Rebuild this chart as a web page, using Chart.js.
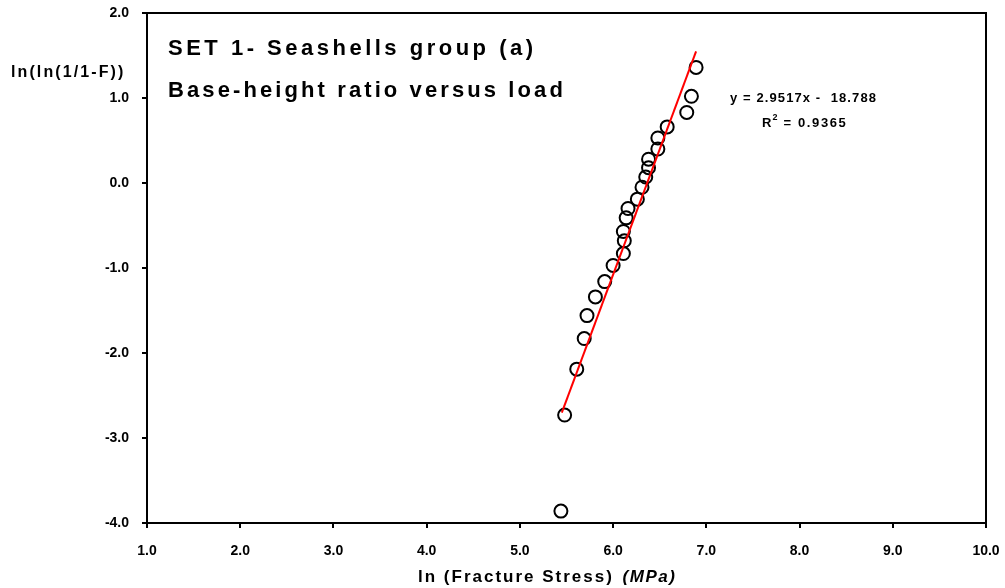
<!DOCTYPE html>
<html>
<head>
<meta charset="utf-8">
<script src="https://cdn.jsdelivr.net/npm/chart.js@4/dist/chart.umd.min.js"></script>
<style>
  html, body { margin: 0; padding: 0; background: #fff; }
  #wrap { width: 1005px; height: 588px; }
</style>
</head>
<body>
<div id="wrap"><canvas id="chart"></canvas></div>
<script>
// ln(fracture stress) vs ln(ln(1/1-F))
const lnStress = [5.44, 5.48, 5.61, 5.69, 5.72, 5.81, 5.91, 6.00, 6.11, 6.12, 6.11, 6.14,
                  6.16, 6.26, 6.31, 6.35, 6.38, 6.38, 6.48, 6.48, 6.58, 6.79, 6.84, 6.89];
const lnlnF    = [-3.86, -2.73, -2.19, -1.83, -1.56, -1.34, -1.16, -0.97, -0.83, -0.68, -0.57, -0.41,
                  -0.30, -0.19, -0.05, 0.07, 0.18, 0.28, 0.40, 0.53, 0.66, 0.83, 1.02, 1.36];

// linear fit printed on the chart
const slope = 2.9517;
const intercept = -18.788;
const fitRange = [5.45, 6.89];

const xTicks = [1, 2, 3, 4, 5, 6, 7, 8, 9, 10];
const yTicks = [-4, -3, -2, -1, 0, 1, 2];

const FONT = "'Liberation Sans', Arial, sans-serif";

// write text with loose letter spacing, like the original export
function spaced(ctx, text, x, y, spacing) {
  ctx.letterSpacing = spacing + "px";
  ctx.fillText(text, x, y);
  const w = ctx.measureText(text).width;
  ctx.letterSpacing = "0px";
  return w;
}

// extra text (titles, equation, axis titles with mixed styles) + closed frame
const decorations = {
  id: "decorations",
  afterDraw(chart) {
    const { ctx, chartArea: a } = chart;
    ctx.save();
    ctx.strokeStyle = "#000";
    ctx.lineWidth = 2;
    ctx.strokeRect(a.left, a.top, a.right - a.left, a.bottom - a.top);

    ctx.fillStyle = "#000";
    ctx.textBaseline = "alphabetic";
    ctx.textAlign = "left";
    ctx.font = `bold 22px ${FONT}`;
    spaced(ctx, "SET 1- Seashells group (a)", 168, 55, 3.5);
    spaced(ctx, "Base-height ratio versus load", 168, 97, 3.1);

    ctx.font = `bold 13px ${FONT}`;
    spaced(ctx, `y = ${slope}x -  ${Math.abs(intercept)}`, 730, 102, 1.1);
    let w = spaced(ctx, "R", 762, 127, 1);
    ctx.font = `bold 9px ${FONT}`;
    ctx.fillText("2", 762 + w, 120);
    ctx.font = `bold 13px ${FONT}`;
    spaced(ctx, " = 0.9365", 762 + w + 6, 127, 1.6);

    // y title sits horizontally above the 1.0 tick
    ctx.font = `bold 16px ${FONT}`;
    spaced(ctx, "ln(ln(1/1-F))", 11, 77, 2.1);

    // x title: regular part + italic unit
    ctx.font = `bold 17px ${FONT}`;
    w = spaced(ctx, "ln (Fracture Stress) ", 418, 582, 2);
    ctx.font = `italic bold 17px ${FONT}`;
    spaced(ctx, "(MPa)", 418 + w + 2, 582, 1.5);
    ctx.restore();
  },
};

new Chart(document.getElementById("chart"), {
  type: "scatter",
  data: {
    datasets: [
      {
        label: "data",
        data: lnStress.map((x, i) => ({ x, y: lnlnF[i] })),
        pointStyle: "circle",
        pointRadius: 6.5,
        pointBorderWidth: 2,
        borderColor: "#000",
        backgroundColor: "rgba(0,0,0,0)",
        order: 2,
      },
      {
        label: "fit",
        type: "line",
        data: fitRange.map((x) => ({ x, y: slope * x + intercept })),
        borderColor: "#ff0000",
        borderWidth: 2,
        pointRadius: 0,
        order: 1,
      },
    ],
  },
  options: {
    responsive: true,
    maintainAspectRatio: false,
    animation: false,
    layout: { padding: { top: 13, right: 19, left: 0, bottom: 0 } },
    plugins: { legend: { display: false }, tooltip: { enabled: false } },
    scales: {
      x: {
        type: "linear",
        min: 1,
        max: 10,
        afterBuildTicks: (s) => { s.ticks = xTicks.map((v) => ({ value: v })); },
        afterFit: (s) => { s.height = 65; s.paddingLeft = 0; s.paddingRight = 0; },
        border: { display: true, color: "#000", width: 2 },
        grid: { drawOnChartArea: false, drawTicks: true, tickLength: 5, color: "#000", lineWidth: 2 },
        ticks: {
          color: "#000",
          font: { family: FONT, size: 14, weight: "bold" },
          padding: 15,
          maxRotation: 0,
          callback: (v) => Number(v).toFixed(1),
        },
      },
      y: {
        type: "linear",
        min: -4,
        max: 2,
        afterBuildTicks: (s) => { s.ticks = yTicks.map((v) => ({ value: v })); },
        afterFit: (s) => { s.width = 147; s.paddingTop = 0; s.paddingBottom = 0; },
        border: { display: true, color: "#000", width: 2 },
        grid: { drawOnChartArea: false, drawTicks: true, tickLength: 5, color: "#000", lineWidth: 2 },
        ticks: {
          color: "#000",
          font: { family: FONT, size: 14, weight: "bold" },
          padding: 13,
          callback: (v) => Number(v).toFixed(1),
        },
      },
    },
  },
  plugins: [decorations],
});
</script>
</body>
</html>
